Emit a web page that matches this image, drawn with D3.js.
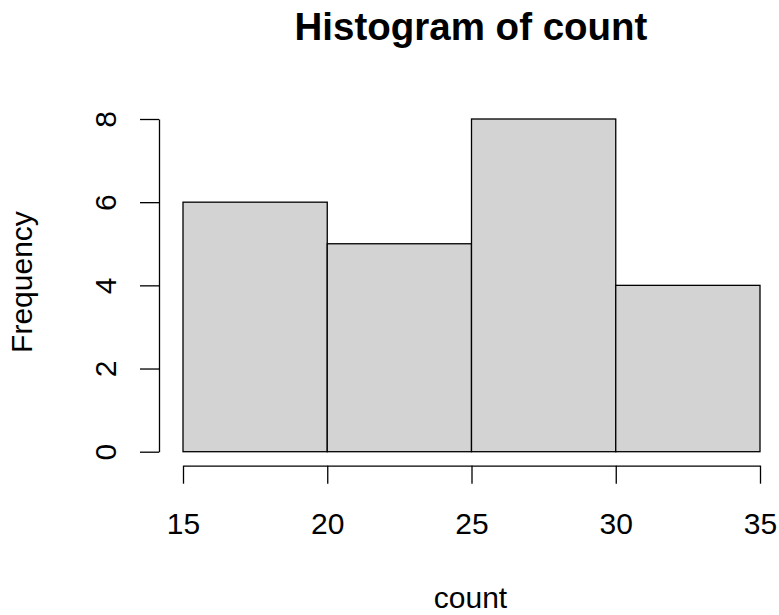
<!DOCTYPE html>
<html>
<head>
<meta charset="utf-8">
<script src="https://cdn.jsdelivr.net/npm/d3@7"></script>
<style>
  body { margin: 0; background: #fff; }
  text { font-family: "Liberation Sans", Arial, sans-serif; fill: #000; }
</style>
</head>
<body>
<svg id="chart" width="779" height="615"></svg>
<script>
const binStarts = [15, 20, 25, 30];
const binEnds = [20, 25, 30, 35];
const frequencies = [6, 5, 8, 4];
const xTicks = [15, 20, 25, 30, 35];
const yTicks = [0, 2, 4, 6, 8];
const title = "Histogram of count";
const xLabel = "count";
const yLabel = "Frequency";

const svg = d3.select("#chart");
const x = d3.scaleLinear().domain([15, 35]).range([183, 760]);
const y = d3.scaleLinear().domain([0, 8]).range([451.7, 119]);

// bars
svg.append("g").selectAll("rect")
  .data(frequencies)
  .join("rect")
  .attr("x", (d, i) => x(binStarts[i]))
  .attr("y", d => y(d))
  .attr("width", (d, i) => x(binEnds[i]) - x(binStarts[i]))
  .attr("height", d => y(0) - y(d))
  .attr("fill", "#d3d3d3")
  .attr("stroke", "#000")
  .attr("stroke-width", 1.3);

// x axis
const xAxis = d3.axisBottom(x).tickValues(xTicks).tickSize(18).tickPadding(0).tickSizeOuter(0);
const gx = svg.append("g").attr("transform", "translate(0,465.7)").call(xAxis);
gx.select(".domain").attr("stroke", "#000").attr("stroke-width", 1.3);
gx.selectAll(".tick line").attr("stroke", "#000").attr("stroke-width", 1.3);
gx.selectAll(".tick text")
  .attr("y", 68).attr("dy", null)
  .attr("font-size", 30)
  .attr("font-family", "Liberation Sans, Arial, sans-serif")
  .attr("fill", "#000");

// y axis
const yAxis = d3.axisLeft(y).tickValues(yTicks).tickSize(19).tickPadding(0).tickSizeOuter(0);
const gy = svg.append("g").attr("transform", "translate(159,0)").call(yAxis);
gy.select(".domain").attr("stroke", "#000").attr("stroke-width", 1.3);
gy.selectAll(".tick line").attr("stroke", "#000").attr("stroke-width", 1.3);
gy.selectAll(".tick text")
  .attr("x", null).attr("dy", null)
  .attr("text-anchor", "middle")
  .attr("transform", "translate(-43,0) rotate(-90)")
  .attr("font-size", 30)
  .attr("font-family", "Liberation Sans, Arial, sans-serif")
  .attr("fill", "#000");

// title
svg.append("text")
  .attr("x", 471).attr("y", 39.5)
  .attr("text-anchor", "middle")
  .attr("font-size", 38.5)
  .attr("font-weight", "bold")
  .text(title);

// x label
svg.append("text")
  .attr("x", 470.5).attr("y", 608)
  .attr("text-anchor", "middle")
  .attr("font-size", 30)
  .text(xLabel);

// y label
svg.append("text")
  .attr("transform", "translate(32,282) rotate(-90)")
  .attr("text-anchor", "middle")
  .attr("font-size", 30)
  .text(yLabel);
</script>
</body>
</html>
